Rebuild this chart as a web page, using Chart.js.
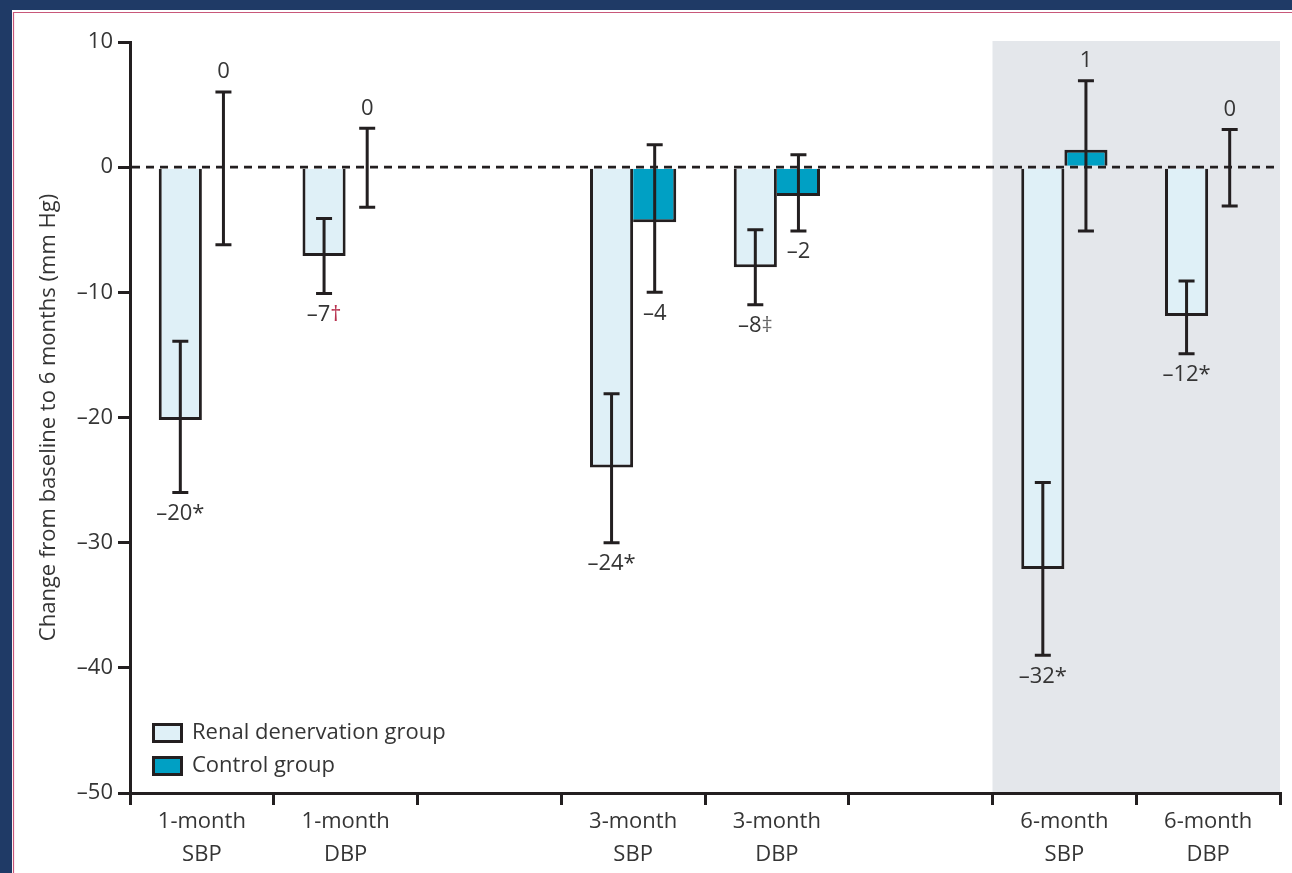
<!DOCTYPE html>
<html>
<head>
<meta charset="utf-8">
<script src="https://cdn.jsdelivr.net/npm/chart.js@4/dist/chart.umd.min.js"></script>
<style>
  html, body { margin: 0; padding: 0; background: #ffffff; }
  #wrap { position: relative; width: 1292px; height: 873px; }
  canvas { display: block; }
</style>
</head>
<body>
<div id="wrap"><canvas id="c" width="1292" height="873"></canvas></div>
<script>
// ---- Data ----
const categories = [['1-month', 'SBP'], ['1-month', 'DBP'], '', ['3-month', 'SBP'], ['3-month', 'DBP'], '', ['6-month', 'SBP'], ['6-month', 'DBP']];
const seriesNames = ['Renal denervation group', 'Control group'];
const renalMean  = [-20.2, -7.1, null, -24.0, -8.0, null, -32.1, -11.9];
const renalUpper = [-13.9, -4.1, null, -18.1, -5.0, null, -25.2, -9.1];
const renalLower = [-26.0, -10.1, null, -30.0, -11.0, null, -39.0, -14.9];
const controlMean  = [0, 0, null, -4.4, -2.3, null, 1.4, 0];
const controlUpper = [6.0, 3.1, null, 1.8, 1.0, null, 6.9, 3.0];
const controlLower = [-6.2, -3.2, null, -10.0, -5.1, null, -5.1, -3.1];
const renalLabels   = ['–20*', '–7†', null, '–24*', '–8‡', null, '–32*', '–12*'];
const controlLabels = ['0', '0', null, '–4', '–2', null, '1', '0'];
const yTitle = 'Change from baseline to 6 months (mm Hg)';
const shadedFrom = 6; // first shaded category index

const FONT = '"Open Sans", "Noto Sans", sans-serif';
const TXT = '#353535';
const INK = '#231f20';
const renalFill = '#dff0f7';
const controlFill = '#00a0c4';

const framePlugin = {
  id: 'frame',
  beforeDraw(chart) {
    const { ctx, chartArea, scales: { x } } = chart;
    ctx.save();
    ctx.fillStyle = '#1f3a66';
    ctx.fillRect(0, 0, chart.width, 10);
    ctx.fillRect(0, 0, 12, chart.height);
    ctx.strokeStyle = '#c8587a';
    ctx.lineWidth = 1.2;
    ctx.beginPath();
    ctx.moveTo(13.5, chart.height); ctx.lineTo(13.5, 12.5); ctx.lineTo(chart.width, 12.5);
    ctx.stroke();
    const half = (x.getPixelForValue(1) - x.getPixelForValue(0)) / 2;
    const left = x.getPixelForValue(shadedFrom) - half;
    ctx.fillStyle = '#e4e7eb';
    ctx.fillRect(left, chartArea.top - 1, chartArea.right - left, chartArea.bottom - chartArea.top + 1);
    ctx.restore();
  }
};

const overlayPlugin = {
  id: 'overlay',
  afterDatasetsDraw(chart) {
    const { ctx, chartArea, scales: { y } } = chart;
    const y0 = y.getPixelForValue(0);
    ctx.save();
    ctx.strokeStyle = INK;
    ctx.lineWidth = 2.6;
    ctx.setLineDash([8, 6]);
    ctx.beginPath();
    ctx.moveTo(chartArea.left + 2, y0);
    ctx.lineTo(chartArea.right, y0);
    ctx.stroke();
    ctx.setLineDash([]);

    const sets = [
      [0, renalMean, renalUpper, renalLower, renalLabels],
      [1, controlMean, controlUpper, controlLower, controlLabels]
    ];
    ctx.font = '22px ' + FONT;
    ctx.textBaseline = 'middle';
    sets.forEach(([di, mean, up, lo, labs]) => {
      const meta = chart.getDatasetMeta(di);
      meta.data.forEach((bar, i) => {
        if (mean[i] == null) return;
        const cx = bar.x;
        const yt = y.getPixelForValue(up[i]);
        const yb = y.getPixelForValue(lo[i]);
        ctx.strokeStyle = INK;
        ctx.lineWidth = 3;
        ctx.beginPath();
        ctx.moveTo(cx, yt); ctx.lineTo(cx, yb);
        ctx.moveTo(cx - 8, yt); ctx.lineTo(cx + 8, yt);
        ctx.moveTo(cx - 8, yb); ctx.lineTo(cx + 8, yb);
        ctx.stroke();
        const lab = labs[i];
        if (!lab) return;
        const ly = mean[i] < 0 ? yb + 21 : yt - 20;
        const w = ctx.measureText(lab).width;
        let sx = cx - w / 2;
        ctx.textAlign = 'left';
        for (const ch of lab) {
          ctx.fillStyle = ch === '†' ? '#b8324f' : (ch === '‡' ? '#6a6a6a' : TXT);
          ctx.fillText(ch, sx, ly);
          sx += ctx.measureText(ch).width;
        }
      });
    });

    const lx = chartArea.left + 22;
    const items = [[seriesNames[0], renalFill, 723], [seriesNames[1], controlFill, 756]];
    ctx.font = '22px ' + FONT;
    ctx.textAlign = 'left';
    ctx.textBaseline = 'middle';
    items.forEach(([name, fill, top]) => {
      ctx.fillStyle = fill;
      ctx.fillRect(lx, top, 31, 20);
      ctx.strokeStyle = INK;
      ctx.lineWidth = 3;
      ctx.strokeRect(lx + 1.5, top + 1.5, 28, 17);
      ctx.fillStyle = TXT;
      ctx.fillText(name, lx + 40, top + 10);
    });
    ctx.restore();
  }
};

new Chart(document.getElementById('c'), {
  type: 'bar',
  data: {
    labels: categories,
    datasets: [
      {
        label: seriesNames[0],
        data: renalMean,
        backgroundColor: renalFill,
        borderColor: INK,
        borderWidth: 3,
        borderSkipped: 'start',
        categoryPercentage: 0.6,
        barPercentage: 1.0
      },
      {
        label: seriesNames[1],
        data: controlMean,
        backgroundColor: controlFill,
        borderColor: INK,
        borderWidth: (c) => {
          const i = c.dataIndex;
          const bothNeg = controlMean[i] < 0 && renalMean[i] < 0;
          return { left: bothNeg ? 0 : 3, right: 3, top: 3, bottom: 3 };
        },
        borderSkipped: 'start',
        categoryPercentage: 0.6,
        barPercentage: 1.0
      }
    ]
  },
  options: {
    responsive: false,
    animation: false,
    devicePixelRatio: 1,
    layout: { padding: { top: 42, right: 12, bottom: 0, left: 0 } },
    plugins: {
      legend: { display: false },
      tooltip: { enabled: false },
      title: { display: false }
    },
    scales: {
      x: {
        afterFit(s) { s.height = 80; },
        grid: {
          offset: true,
          drawOnChartArea: false,
          drawTicks: true,
          tickLength: 12,
          tickWidth: 3,
          tickColor: INK,
          lineWidth: 3,
          color: INK
        },
        border: { display: true, color: INK, width: 3 },
        ticks: {
          color: TXT,
          font: { family: FONT, size: 22, lineHeight: 1.5 },
          padding: 0,
          maxRotation: 0,
          autoSkip: false
        }
      },
      y: {
        min: -50,
        max: 10,
        afterFit(s) { s.width = 130; },
        grid: {
          drawOnChartArea: false,
          drawTicks: true,
          tickLength: 12,
          tickWidth: 3,
          tickColor: INK,
          lineWidth: 3,
          color: INK
        },
        border: { display: true, color: INK, width: 3 },
        ticks: {
          stepSize: 10,
          color: TXT,
          padding: 5,
          font: { family: FONT, size: 22 },
          callback: (v) => (v < 0 ? '–' + Math.abs(v) : String(v))
        },
        title: {
          display: true,
          text: yTitle,
          color: TXT,
          font: { family: FONT, size: 22 },
          padding: { top: 36, bottom: 0 }
        }
      }
    }
  },
  plugins: [framePlugin, overlayPlugin]
});
</script>
</body>
</html>
